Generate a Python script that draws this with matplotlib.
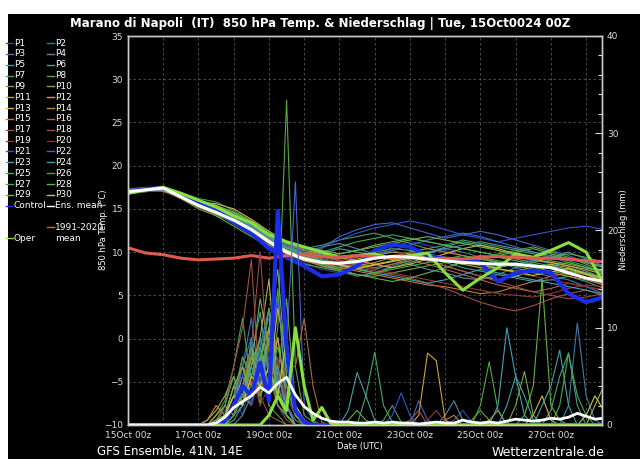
import matplotlib
matplotlib.use("Agg")
import matplotlib.pyplot as plt
from matplotlib.patches import Rectangle
from matplotlib.lines import Line2D
import numpy as np

# time axes in days after 15Oct 00z
days_12h = np.arange(28) * 0.5
days_6h = np.arange(55) * 0.25

date_ticks = [0, 2, 4, 6, 8, 10, 12]
date_labels = ["15Oct 00z", "17Oct 00z", "19Oct 00z", "21Oct 00z",
               "23Oct 00z", "25Oct 00z", "27Oct 00z"]

member_names = ["P%d" % i for i in range(1, 31)]
member_colors = ["#3344aa", "#4466cc", "#4477aa", "#5588aa", "#44a0a0", "#44a088",
                 "#44a055", "#55a844", "#66a844", "#77a844", "#b0b040", "#d0a040",
                 "#d8b050", "#d08a40", "#c07a40", "#a86a40", "#a05040", "#a04848",
                 "#903838", "#803040", "#3355cc", "#4466cc", "#44a0b8", "#44a0a0",
                 "#44a866", "#44a855", "#55a844", "#66b044", "#77b044", "#c8c840"]

# 850 hPa temperature, 12-hourly
member_temp = [
    [16.8, 17.3, 17.2, 16.4, 15.2, 14.6, 13.2, 12.0, 10.8, 9.6, 8.8, 8.0, 7.6, 8.2, 9.4, 10.6, 11.2, 10.8, 10.2, 9.6, 9.0, 8.4, 8.8, 9.2, 8.6, 7.8, 7.0, 6.2],
    [17.0, 17.1, 17.5, 16.7, 15.6, 14.9, 14.2, 13.0, 11.6, 10.4, 9.6, 10.4, 11.8, 12.6, 13.2, 13.4, 12.8, 12.2, 11.6, 12.0, 12.4, 12.0, 11.4, 10.8, 10.2, 9.6, 8.8, 8.2],
    [17.2, 17.4, 17.1, 16.2, 15.8, 15.2, 14.4, 13.4, 11.8, 10.6, 9.2, 8.4, 7.8, 7.2, 7.6, 8.4, 9.0, 9.8, 10.4, 10.0, 9.4, 8.8, 8.2, 7.6, 7.2, 6.8, 6.0, 5.2],
    [16.9, 17.2, 17.3, 16.8, 15.4, 14.2, 13.6, 12.6, 11.2, 10.0, 9.8, 10.6, 11.0, 10.4, 9.8, 9.2, 8.6, 8.0, 7.6, 7.0, 6.8, 7.4, 8.2, 8.8, 9.4, 10.0, 9.2, 8.4],
    [17.1, 17.3, 17.6, 16.6, 16.0, 15.4, 14.6, 13.2, 12.0, 10.8, 10.2, 9.6, 9.0, 8.4, 8.0, 8.6, 9.2, 9.8, 10.6, 11.2, 10.8, 10.2, 9.6, 9.0, 8.8, 8.4, 7.8, 7.0],
    [16.7, 17.0, 17.2, 16.3, 15.2, 14.4, 13.4, 12.2, 10.8, 9.8, 9.0, 8.6, 8.2, 8.6, 9.2, 9.6, 10.0, 9.4, 8.8, 8.2, 7.8, 7.4, 7.0, 6.6, 6.8, 7.2, 6.6, 5.8],
    [17.3, 17.5, 17.4, 16.9, 16.2, 15.8, 14.8, 13.6, 12.4, 11.2, 10.4, 10.8, 11.4, 11.8, 12.2, 11.6, 11.0, 10.4, 10.8, 11.4, 11.0, 10.6, 10.2, 9.8, 9.4, 9.0, 8.4, 7.6],
    [17.0, 17.2, 17.3, 16.4, 15.6, 14.6, 13.8, 12.8, 11.4, 10.2, 9.4, 8.8, 8.4, 8.0, 7.6, 8.2, 8.8, 9.4, 9.0, 8.6, 9.2, 9.8, 10.2, 10.6, 10.0, 9.4, 8.6, 7.8],
    [16.8, 17.1, 17.2, 16.2, 15.0, 14.2, 13.0, 11.8, 10.6, 9.4, 8.6, 8.2, 7.8, 7.4, 7.2, 7.6, 8.0, 8.4, 8.8, 9.2, 9.6, 9.4, 9.0, 8.6, 8.2, 7.8, 7.4, 6.8],
    [17.2, 17.4, 17.5, 16.8, 16.0, 15.2, 14.2, 13.0, 11.8, 10.8, 10.0, 9.6, 9.8, 10.2, 10.8, 11.2, 11.6, 11.2, 10.8, 10.4, 10.0, 9.6, 10.0, 10.4, 9.8, 9.2, 8.8, 8.2],
    [17.0, 17.2, 17.0, 16.6, 15.8, 15.0, 14.0, 13.0, 11.8, 10.4, 9.6, 9.2, 8.8, 9.2, 9.6, 10.0, 9.8, 9.4, 9.0, 8.6, 8.2, 8.0, 7.8, 8.2, 8.6, 8.2, 7.6, 7.0],
    [16.9, 17.1, 17.3, 16.4, 15.4, 14.8, 14.2, 13.4, 12.0, 10.8, 9.8, 9.2, 8.6, 8.2, 8.6, 9.0, 9.4, 9.0, 8.4, 7.8, 7.2, 6.8, 7.2, 7.8, 8.4, 8.0, 7.4, 6.6],
    [17.1, 17.4, 17.2, 16.6, 15.8, 15.6, 15.0, 13.8, 12.4, 11.0, 10.2, 9.8, 9.4, 9.0, 8.6, 8.2, 8.6, 9.2, 9.8, 10.4, 10.8, 10.4, 9.8, 9.2, 8.8, 8.4, 8.0, 7.4],
    [16.8, 17.0, 17.1, 16.2, 15.2, 14.4, 13.6, 12.4, 11.0, 9.8, 9.0, 8.4, 8.0, 8.4, 8.8, 9.4, 10.0, 10.4, 10.0, 9.6, 9.2, 8.8, 8.4, 8.0, 7.6, 7.2, 6.8, 6.2],
    [17.0, 17.2, 17.3, 16.5, 15.6, 14.8, 14.0, 13.0, 11.6, 10.4, 9.4, 8.8, 8.2, 7.8, 7.4, 7.0, 6.6, 6.2, 6.0, 5.6, 5.2, 5.4, 6.0, 6.6, 7.2, 7.6, 7.0, 6.4],
    [17.2, 17.3, 17.4, 16.7, 15.9, 15.2, 14.4, 13.4, 12.2, 11.0, 10.2, 9.6, 9.0, 8.6, 8.2, 8.6, 9.0, 8.6, 8.0, 7.4, 6.8, 6.2, 5.8, 5.4, 5.8, 6.4, 6.0, 5.6],
    [16.9, 17.1, 17.0, 16.3, 15.3, 14.5, 13.7, 12.6, 11.4, 10.2, 9.4, 9.0, 8.6, 8.2, 7.8, 7.4, 7.0, 6.4, 5.8, 5.0, 4.2, 3.6, 3.2, 3.8, 4.6, 5.2, 5.6, 5.2],
    [17.1, 17.3, 17.2, 16.5, 15.6, 14.9, 14.1, 13.2, 11.8, 10.6, 9.8, 9.4, 9.0, 9.4, 9.8, 10.2, 9.6, 9.0, 8.4, 7.8, 7.2, 6.6, 6.0, 5.4, 5.0, 4.6, 4.8, 5.2],
    [17.0, 17.2, 17.4, 16.6, 15.5, 14.6, 13.8, 12.8, 11.4, 10.2, 9.6, 9.2, 8.8, 8.4, 8.0, 7.6, 7.2, 6.8, 6.4, 6.0, 5.6, 5.2, 5.0, 4.8, 5.2, 5.8, 6.2, 6.0],
    [16.8, 17.0, 17.1, 16.4, 15.4, 14.6, 13.6, 12.4, 11.2, 10.0, 9.2, 8.8, 8.4, 8.8, 9.2, 9.6, 10.0, 9.6, 9.2, 8.8, 8.4, 8.0, 7.6, 7.2, 6.8, 6.4, 6.0, 5.6],
    [17.2, 17.4, 17.5, 16.8, 15.9, 15.1, 14.3, 13.2, 11.9, 10.8, 10.0, 10.6, 11.4, 12.2, 12.8, 13.2, 13.6, 13.2, 12.6, 12.0, 11.6, 11.2, 11.6, 12.0, 12.4, 12.8, 13.0, 12.6],
    [16.9, 17.2, 17.3, 16.5, 15.5, 14.7, 13.9, 12.9, 11.6, 10.4, 9.6, 9.0, 8.6, 9.0, 9.6, 10.2, 10.8, 11.4, 11.8, 12.2, 11.8, 11.2, 10.6, 10.0, 9.4, 8.8, 8.2, 7.6],
    [17.0, 17.3, 17.2, 16.6, 15.7, 14.9, 14.1, 13.0, 11.7, 10.5, 9.7, 9.1, 8.6, 8.1, 7.6, 7.2, 6.8, 6.4, 6.8, 7.4, 8.0, 7.6, 7.2, 6.8, 6.4, 6.0, 5.6, 5.0],
    [17.1, 17.2, 17.4, 16.4, 15.4, 14.6, 13.8, 12.6, 11.4, 10.2, 9.4, 9.8, 10.4, 10.0, 9.6, 9.2, 9.6, 10.0, 10.4, 10.8, 11.2, 10.8, 10.4, 10.0, 9.6, 9.2, 8.8, 8.4],
    [16.8, 17.1, 17.3, 16.5, 15.7, 15.0, 14.2, 13.2, 11.9, 10.6, 9.8, 9.4, 9.2, 9.6, 10.0, 10.4, 10.2, 9.8, 9.4, 9.0, 8.6, 8.2, 8.6, 9.0, 9.4, 9.8, 9.4, 8.8],
    [17.2, 17.4, 17.3, 16.7, 15.9, 15.3, 14.5, 13.4, 12.2, 11.0, 10.4, 10.0, 10.6, 11.2, 11.6, 12.0, 11.6, 11.2, 10.8, 10.4, 10.0, 9.6, 9.2, 8.8, 8.4, 8.0, 7.6, 7.0],
    [17.0, 17.2, 17.4, 16.6, 15.6, 14.8, 13.9, 12.8, 11.5, 10.3, 9.5, 9.0, 8.5, 8.0, 7.6, 8.0, 8.4, 8.8, 9.2, 9.6, 9.2, 8.8, 8.4, 8.0, 8.4, 8.8, 8.2, 7.6],
    [16.9, 17.1, 17.2, 16.3, 15.3, 14.5, 13.5, 12.4, 11.2, 10.0, 9.2, 8.6, 8.0, 7.4, 7.0, 6.6, 7.0, 7.6, 8.2, 8.8, 9.4, 9.0, 8.6, 8.2, 7.8, 7.4, 7.0, 6.6],
    [17.1, 17.3, 17.5, 16.8, 16.0, 15.4, 14.6, 13.6, 12.4, 11.2, 10.6, 10.2, 9.8, 10.2, 10.6, 11.0, 11.4, 11.8, 11.4, 11.0, 10.6, 10.2, 9.8, 9.4, 9.0, 8.6, 8.2, 7.8],
    [17.0, 17.2, 17.1, 16.4, 15.5, 14.7, 13.8, 12.7, 11.4, 10.2, 9.4, 8.9, 8.5, 8.1, 8.5, 8.9, 9.3, 9.7, 9.3, 8.9, 8.5, 8.1, 7.7, 7.3, 7.7, 8.1, 7.5, 6.9],
]

control_temp = [17.0, 17.3, 17.4, 16.6, 15.6, 14.8, 13.6, 12.2, 10.4, 9.4, 8.4, 7.2, 7.4, 8.4,
                10.2, 10.9, 10.6, 9.6, 9.2, 9.0, 8.8, 6.6, 7.6, 7.9, 7.6, 5.2, 4.2, 4.8]
oper_temp = [16.8, 17.2, 17.5, 16.8, 16.0, 15.2, 14.2, 13.4, 12.0, 11.2, 10.6, 10.0, 9.4, 9.6,
             9.8, 9.2, 9.6, 9.9, 7.6, 5.6, 7.0, 8.2, 9.8, 9.4, 10.2, 11.1, 10.0, 6.4]
mean_temp = [17.0, 17.2, 17.4, 16.4, 15.4, 14.6, 13.7, 12.6, 11.2, 10.0, 9.2, 8.8, 8.7, 8.9,
             9.3, 9.5, 9.4, 9.2, 9.0, 8.8, 8.7, 8.6, 8.6, 8.4, 8.2, 7.6, 7.0, 6.6]
clim_temp = [10.5, 9.9, 9.7, 9.3, 9.1, 9.2, 9.3, 9.6, 9.3, 9.6, 9.7, 9.5, 9.4, 9.6,
             9.5, 9.3, 9.4, 9.2, 9.3, 9.2, 9.4, 9.5, 9.4, 9.3, 9.3, 9.2, 9.0, 8.9]

# precipitation (mm), 6-hourly; only non-zero steps listed
member_rain = [
    {10: 0.5, 11: 1.5, 12: 3, 13: 1, 14: 5, 15: 9, 16: 3, 17: 13, 18: 4, 19: 1, 20: 0.3, 37: 0.5, 38: 1.5, 39: 0.3},
    {12: 1, 13: 4, 14: 2, 15: 6, 16: 12, 17: 3, 18: 8, 19: 25, 20: 2, 21: 0.5, 33: 2.5, 34: 0.5},
    {11: 0.5, 12: 2, 13: 6, 14: 11, 15: 4, 16: 9, 17: 2, 18: 1, 50: 2, 51: 10.5, 52: 3, 53: 0.5},
    {13: 1, 14: 3, 15: 8, 16: 12, 17: 6, 18: 2, 19: 0.5, 36: 1, 37: 2.5, 38: 0.5},
    {12: 0.5, 13: 2, 14: 7, 15: 11.6, 16: 5, 17: 9, 18: 3, 19: 1, 43: 2, 44: 5, 45: 3, 46: 0.5},
    {11: 1, 12: 4, 13: 2, 14: 9, 15: 3, 16: 6, 17: 14, 18: 2, 19: 0.5, 48: 1.5, 49: 5, 50: 7.4, 51: 2},
    {10: 1, 11: 2.5, 12: 6, 13: 11, 14: 4, 15: 7, 16: 2, 17: 1, 29: 0.5, 30: 2, 31: 0.3},
    {12: 1, 13: 3, 14: 2, 15: 8, 16: 4, 17: 10, 18: 33.4, 19: 6, 20: 1, 21: 0.3},
    {10: 0.5, 11: 1, 12: 3, 13: 5, 14: 8, 15: 2, 16: 10, 17: 5, 18: 13, 19: 2, 20: 0.5, 39: 0.5, 40: 1.5, 41: 0.5},
    {12: 2, 13: 4, 14: 6, 15: 13, 16: 8, 17: 3, 18: 1, 25: 0.5, 26: 1.5, 27: 0.5, 44: 2, 45: 5.5, 46: 1},
    {9: 0.5, 10: 1.5, 11: 3, 12: 5, 13: 2, 14: 6, 15: 9, 16: 15, 17: 4, 18: 1, 53: 2, 54: 4},
    {10: 1, 11: 2, 12: 1, 13: 4, 14: 8, 15: 5, 16: 3, 17: 9, 18: 2, 33: 1, 34: 7.4, 35: 6.6, 36: 0.5},
    {11: 0.5, 12: 2, 13: 5, 14: 3, 15: 6, 16: 4, 17: 12, 18: 7, 19: 2, 20: 0.5, 46: 1, 47: 3, 48: 0.5},
    {9: 0.5, 10: 2, 11: 1, 12: 4, 13: 3, 14: 7, 15: 5, 16: 10, 17: 3, 18: 1, 41: 0.5, 42: 1.5},
    {10: 0.5, 11: 1, 12: 3, 13: 6, 14: 4, 15: 9, 16: 6, 17: 2, 18: 1, 36: 0.5, 37: 1},
    {11: 1, 12: 2, 13: 7, 14: 5, 15: 3, 16: 8, 17: 4, 18: 6, 19: 6, 20: 11, 21: 4, 22: 0.3},
    {11: 2, 12: 6, 13: 10, 14: 17, 15: 3, 16: 1, 17: 0.5, 32: 0.5, 33: 1.5},
    {12: 1, 13: 4, 14: 8, 15: 17.8, 16: 5, 17: 2, 18: 0.5},
    {11: 0.5, 12: 2, 13: 4, 14: 2, 15: 5, 16: 3, 17: 7, 18: 2, 19: 0.5, 34: 0.5, 35: 1.5, 36: 0.3},
    {12: 1, 13: 3, 14: 5, 15: 2, 16: 4, 17: 6, 18: 3, 19: 1},
    {11: 0.5, 12: 3, 13: 5, 14: 2, 15: 8, 16: 11, 17: 4, 18: 2, 30: 1, 31: 3.3, 32: 1},
    {12: 2, 13: 6, 14: 9, 15: 4, 16: 7, 17: 13, 18: 6, 19: 2, 20: 0.5},
    {11: 0.5, 12: 2, 13: 3, 14: 6, 15: 4, 16: 9, 17: 5, 18: 2, 42: 2, 43: 10, 44: 5, 45: 1},
    {12: 1, 13: 2, 14: 5, 15: 8, 16: 3, 17: 6, 18: 1, 25: 1.5, 26: 5.4, 27: 3, 28: 0.5, 47: 2, 48: 4, 49: 7.7, 50: 2},
    {10: 0.5, 11: 2, 12: 5, 13: 2, 14: 8, 15: 6, 16: 12, 17: 3, 18: 1, 27: 3, 28: 7.5, 29: 2, 30: 0.3},
    {11: 1, 12: 3, 13: 7, 14: 5, 15: 9, 16: 6, 17: 2, 18: 1, 49: 2, 50: 7.4, 51: 3, 52: 1},
    {12: 1, 13: 3, 14: 4, 15: 3, 16: 5, 17: 8, 18: 4, 19: 1, 40: 2, 41: 6.5, 42: 1.5},
    {11: 0.5, 12: 2, 13: 4, 14: 7, 15: 5, 16: 9, 17: 3, 18: 1, 45: 1, 46: 4, 47: 15, 48: 2, 49: 0.5},
    {10: 0.5, 11: 1, 12: 4, 13: 6, 14: 3, 15: 7, 16: 10, 17: 16, 18: 5, 19: 1},
    {11: 1, 12: 3, 13: 2, 14: 5, 15: 4, 16: 6, 17: 3, 18: 9, 19: 2, 20: 0.5, 52: 1, 53: 3, 54: 1.5},
]
control_rain = {11: 0.5, 12: 2, 13: 4, 14: 3, 15: 6.4, 16: 2.5, 17: 22, 18: 8, 19: 1.5, 20: 0.3}
oper_rain = {16: 1, 17: 3, 18: 1.5, 19: 10, 20: 4, 21: 0.5, 22: 1.8, 23: 0.2}
mean_rain = [0, 0, 0, 0, 0, 0, 0, 0, 0, 0, 0.2, 0.8, 1.8, 2.4, 3.0, 3.9, 3.3, 4.3, 4.9,
             3.1, 1.9, 1.2, 0.7, 0.4, 0.3, 0.3, 0.2, 0.2, 0.3, 0.2, 0.3, 0.2, 0.2, 0.1,
             0.2, 0.3, 0.2, 0.2, 0.5, 0.3, 0.2, 0.3, 0.2, 0.4, 0.6, 0.5, 0.4, 0.5, 0.7,
             0.6, 0.8, 1.2, 0.9, 0.6, 0.7]


def rain_series(steps):
    arr = np.zeros(len(days_6h))
    for k, v in steps.items():
        arr[k] = v
    return arr


W, H = 640, 459
fig = plt.figure(figsize=(6.4, 4.59), dpi=100, facecolor="white")
fig.add_artist(Rectangle((8 / W, 0), 1, 1 - 14 / H, transform=fig.transFigure,
                         facecolor="black", edgecolor="none", zorder=-10))

ax = fig.add_axes([128 / W, 34 / H, 474 / W, 389 / H])
ax.set_facecolor("black")
ax2 = ax.twinx()

for temp, col in zip(member_temp, member_colors):
    ax.plot(days_12h, temp, color=col, lw=0.8)
ax.plot(days_12h, control_temp, color="#1a2ee8", lw=3)
ax.plot(days_12h, oper_temp, color="#88e040", lw=2.2)
ax.plot(days_12h, clim_temp, color="#e05a50", lw=2.2)
ax.plot(days_12h, mean_temp, color="white", lw=2.2)

for rain, col in zip(member_rain, member_colors):
    ax2.plot(days_6h, rain_series(rain), color=col, lw=0.8)
ax2.plot(days_6h, rain_series(control_rain), color="#1a2ee8", lw=3)
ax2.plot(days_6h, rain_series(oper_rain), color="#88e040", lw=2.2)
ax2.plot(days_6h, mean_rain, color="white", lw=2)

ax.set_xlim(0, 13.45)
ax.set_ylim(-10, 35)
ax2.set_ylim(0, 40)
ax.set_yticks(range(-10, 40, 5))
ax.set_xticks(date_ticks)
ax.set_xticklabels(date_labels)
ax.set_xticks(range(0, 14), minor=True)
ax.grid(True, which="both", color="#555555", ls=(0, (3, 3)), lw=0.6)
ax.tick_params(colors="#dddddd", labelsize=6.5, length=0, which="both")
ax.tick_params(axis="x", pad=4)
ax2.set_yticks(range(0, 41, 10))
ax2.set_yticks(range(0, 41, 2), minor=True)
ax2.tick_params(colors="#dddddd", labelsize=6.5, direction="in", length=5, width=0.8)
ax2.tick_params(which="minor", colors="#dddddd", direction="in", length=3, width=0.8)
for a in (ax, ax2):
    for sp in a.spines.values():
        sp.set_color("#cccccc")
        sp.set_linewidth(1)

fig.text(0.5, 1 - 23 / H, "Marano di Napoli  (IT)  850 hPa Temp. & Niederschlag | Tue, 15Oct0024 00Z",
         ha="center", va="center", color="white", fontsize=8.5, fontweight="bold")
fig.text(104 / W, 1 - 230 / H, "850 hPa Temp. (°C)", rotation=90, ha="center", va="center",
         color="white", fontsize=6)
fig.text(624 / W, 1 - 230 / H, "Niederschlag (mm)", rotation=90, ha="center", va="center",
         color="white", fontsize=6)
fig.text(360 / W, 1 - 446 / H, "Date (UTC)", ha="center", va="center", color="white", fontsize=6)
fig.text(97 / W, 1 - 452 / H, "GFS Ensemble, 41N, 14E", ha="left", va="center",
         color="white", fontsize=8.5)
fig.text(604 / W, 1 - 452 / H, "Wetterzentrale.de", ha="right", va="center",
         color="white", fontsize=9)

# legend, two columns, row-major like the original
def legend_entry(col, row, label, color):
    x0 = [6, 47][col]
    y = 1 - (43 + 10.85 * row) / H
    fig.add_artist(Line2D([x0 / W, (x0 + 7) / W], [y, y], transform=fig.transFigure,
                          color=color, lw=1))
    fig.text((x0 + 8) / W, y, label, ha="left", va="center", color="white", fontsize=6.5)

for i, (name, col) in enumerate(zip(member_names, member_colors)):
    legend_entry(i % 2, i // 2, name, col)
legend_entry(0, 15, "Control", "#1a2ee8")
legend_entry(1, 15, "Ens. mean", "white")
legend_entry(1, 17, "1991-2020", "#e05a50")
fig.text(55 / W, 1 - (43 + 10.85 * 18) / H, "mean", ha="left", va="center", color="white", fontsize=6.5)
legend_entry(0, 18, "Oper", "#88e040")

fig.savefig("out.png", dpi=100, facecolor=fig.get_facecolor())
